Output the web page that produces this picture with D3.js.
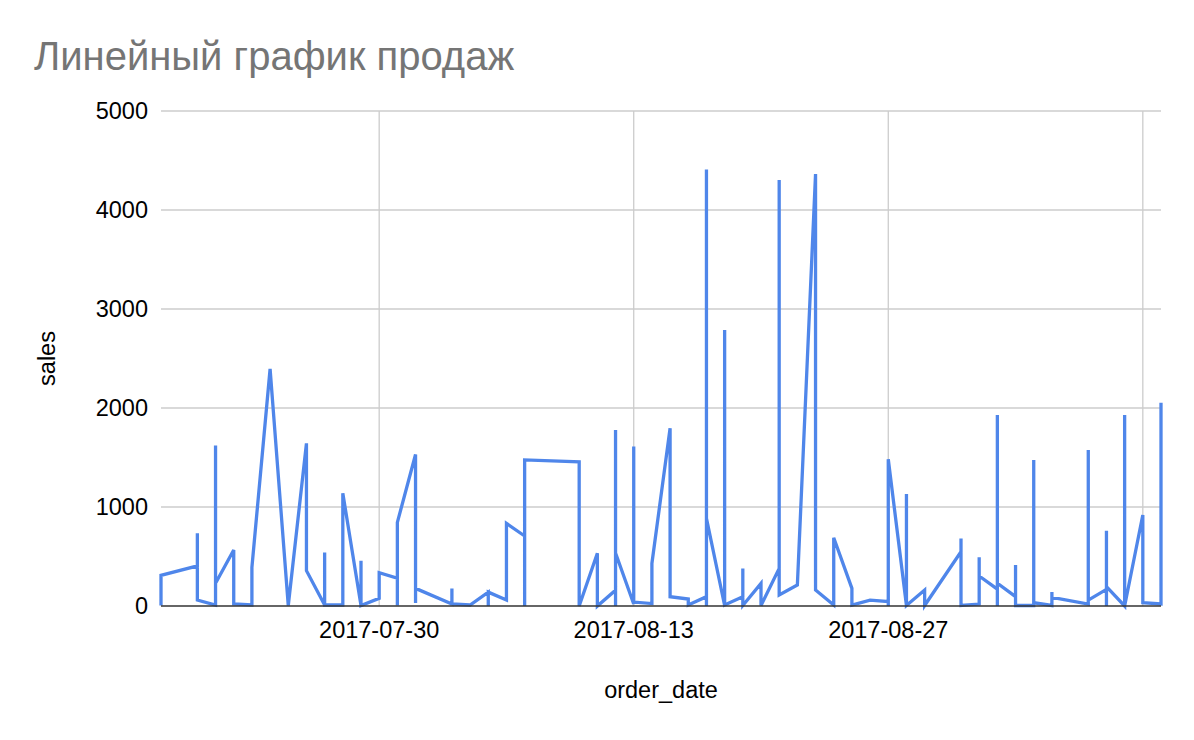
<!DOCTYPE html>
<html>
<head>
<meta charset="utf-8">
<script src="https://cdn.jsdelivr.net/npm/d3@7"></script>
<style>
  html, body { margin: 0; padding: 0; background: #fff; }
  svg text { font-family: "Liberation Sans", Arial, Helvetica, sans-serif; }
</style>
</head>
<body>
<svg id="chart" width="1194" height="740"></svg>
<script>
const TITLE = 'Линейный график продаж';
const X_TITLE = 'order_date';
const Y_TITLE = 'sales';

// one entry per order date, several orders a day
const orderDates = [
  '2017-07-18', '2017-07-20', '2017-07-21', '2017-07-22', '2017-07-23', '2017-07-24',
  '2017-07-25', '2017-07-26', '2017-07-27', '2017-07-28', '2017-07-29', '2017-07-30',
  '2017-07-31', '2017-08-01', '2017-08-03', '2017-08-04', '2017-08-05', '2017-08-06',
  '2017-08-07', '2017-08-10', '2017-08-11', '2017-08-12', '2017-08-13', '2017-08-14',
  '2017-08-15', '2017-08-16', '2017-08-17', '2017-08-18', '2017-08-19', '2017-08-20',
  '2017-08-21', '2017-08-22', '2017-08-23', '2017-08-24', '2017-08-25', '2017-08-26',
  '2017-08-27', '2017-08-28', '2017-08-29', '2017-08-31', '2017-09-01', '2017-09-02',
  '2017-09-03', '2017-09-04', '2017-09-05', '2017-09-07', '2017-09-08', '2017-09-09',
  '2017-09-10', '2017-09-11'
];

const salesByDate = [
  [5, 310], [405, 735, 60], [10, 1620, 230], [565, 20], [10, 390], [2394],
  [5], [1643, 357], [10, 540, 10], [10, 1138], [5, 457, 5], [78, 337],
  [280, 5, 845], [1530, 30, 178], [20, 178, 20], [10], [140, 0, 140], [60, 835],
  [707, 0, 1475], [1455, 0], [532, 0], [160, 0, 1778, 535], [20, 1610, 40], [25, 430],
  [1795, 94], [70, 10], [94, 0, 4410, 885], [5, 2788, 10], [94, 380, 5], [229, 5],
  [380, 4303, 111], [212], [4363, 162], [10, 690], [178, 10], [60],
  [45, 0, 1482], [5, 1131, 5], [162, 5], [548, 683, 5], [20, 492, 303], [170, 1929, 0, 230],
  [94, 414, 5], [5, 1475, 33], [5, 141, 88], [20, 1576, 60], [168, 761, 0, 195], [0, 1929, 0],
  [919, 33], [20, 2053]
];

const xDomain = ['2017-07-18', '2017-09-11'];
const xGridDates = ['2017-07-30', '2017-08-13', '2017-08-27', '2017-09-10'];
const xLabelDates = ['2017-07-30', '2017-08-13', '2017-08-27'];
const yTicks = [0, 1000, 2000, 3000, 4000, 5000];

const margin = { top: 111, right: 33, bottom: 134, left: 161 };
const width = 1194;
const height = 740;
const parse = d3.utcParse('%Y-%m-%d');
const fmt = d3.utcFormat('%Y-%m-%d');

const points = [];
orderDates.forEach((d, i) => {
  salesByDate[i].forEach(v => points.push({ date: parse(d), sales: v }));
});

const svg = d3.select('#chart');

const x = d3.scaleUtc()
  .domain(xDomain.map(parse))
  .range([margin.left, width - margin.right]);
const y = d3.scaleLinear()
  .domain([0, 5000])
  .range([height - margin.bottom, margin.top]);

// horizontal gridlines
svg.append('g')
  .selectAll('line')
  .data(yTicks.filter(t => t > 0))
  .join('line')
  .attr('x1', margin.left)
  .attr('x2', width - margin.right)
  .attr('y1', d => y(d))
  .attr('y2', d => y(d))
  .attr('stroke', '#cccccc')
  .attr('stroke-width', 1.3);

// vertical gridlines
svg.append('g')
  .selectAll('line')
  .data(xGridDates.map(parse))
  .join('line')
  .attr('x1', d => x(d))
  .attr('x2', d => x(d))
  .attr('y1', margin.top)
  .attr('y2', height - margin.bottom)
  .attr('stroke', '#cccccc')
  .attr('stroke-width', 1.3);

// y labels
svg.append('g')
  .selectAll('text')
  .data(yTicks)
  .join('text')
  .attr('x', 148)
  .attr('y', d => y(d))
  .attr('dy', '0.36em')
  .attr('text-anchor', 'end')
  .attr('font-size', 23.5)
  .attr('fill', '#000')
  .text(d => d);

// x labels
svg.append('g')
  .selectAll('text')
  .data(xLabelDates.map(parse))
  .join('text')
  .attr('x', d => x(d))
  .attr('y', 638)
  .attr('text-anchor', 'middle')
  .attr('font-size', 23.5)
  .attr('fill', '#000')
  .text(d => fmt(d));

const line = d3.line()
  .x(d => x(d.date))
  .y(d => y(d.sales));

svg.append('path')
  .datum(points)
  .attr('fill', 'none')
  .attr('stroke', '#4f86ea')
  .attr('stroke-width', 3.3)
  .attr('stroke-linejoin', 'miter')
  .attr('d', line);

// baseline
svg.append('line')
  .attr('x1', margin.left)
  .attr('x2', width - margin.right)
  .attr('y1', y(0))
  .attr('y2', y(0))
  .attr('stroke', '#333333')
  .attr('stroke-width', 1.5);

svg.append('text')
  .attr('x', 34)
  .attr('y', 70)
  .attr('font-size', 40)
  .attr('fill', '#757575')
  .text(TITLE);

svg.append('text')
  .attr('x', x.range()[0] + (x.range()[1] - x.range()[0]) / 2)
  .attr('y', 698)
  .attr('text-anchor', 'middle')
  .attr('font-size', 23.5)
  .attr('fill', '#000')
  .text(X_TITLE);

svg.append('text')
  .attr('transform', `translate(55, ${(y.range()[0] + y.range()[1]) / 2}) rotate(-90)`)
  .attr('text-anchor', 'middle')
  .attr('font-size', 23.5)
  .attr('fill', '#000')
  .text(Y_TITLE);
</script>
</body>
</html>
